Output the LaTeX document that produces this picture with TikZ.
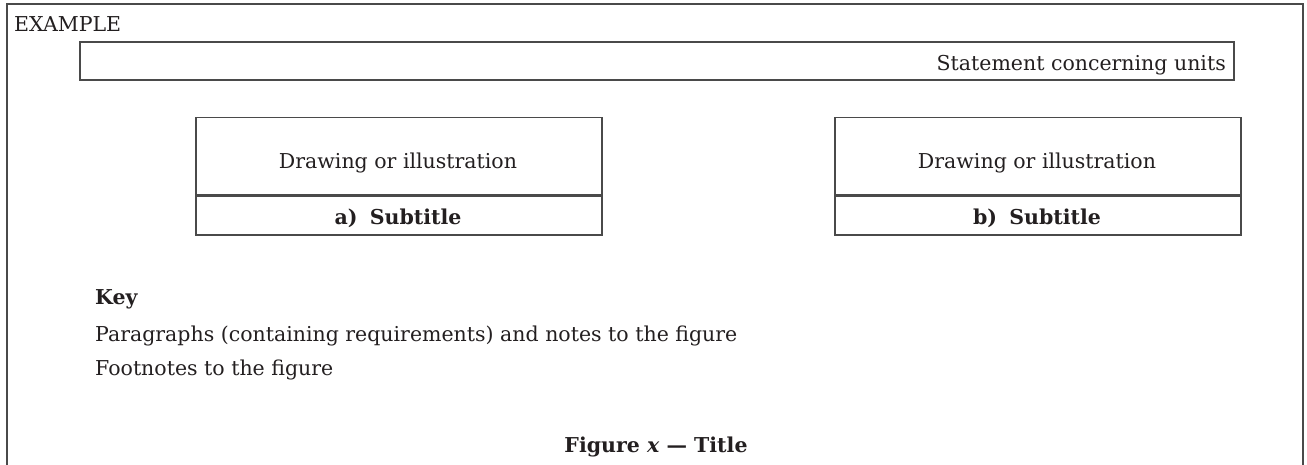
\documentclass[tikz,border=0pt]{standalone}
\usepackage{fontspec}
\setmainfont{DejaVu Serif}
\definecolor{ink}{HTML}{231F20}
\definecolor{rule}{HTML}{4A4A4A}
\begin{document}
\begin{tikzpicture}[x=1pt,y=1pt,
  frame/.style={draw=rule,line width=1.5pt},
  panel/.style={draw=rule,line width=1.5pt,rectangle,inner sep=0pt,anchor=south west},
  txt/.style={text=ink,inner sep=0pt,font=\fontsize{20.5}{24}\selectfont},
  btxt/.style={txt,font=\fontsize{20.5}{24}\selectfont\bfseries}]
\useasboundingbox (0,0) rectangle (1307,465);
\fill[white] (0,0) rectangle (1307,465);

% outer frame, open at the bottom
\coordinate (fl) at (7,0);
\coordinate (fr) at (1303,0);
\draw[frame] (fl) |- (1303,461) -- (fr);
\node[txt,anchor=base west] (ex) at (14,433) {EXAMPLE};

% units statement
\node[panel,minimum width=1154pt,minimum height=38pt] (units) at (79,384) {};
\node[txt,anchor=base east] (unitstxt) at (1226,394) {Statement concerning units};

% panel a
\node[panel,minimum width=406pt,minimum height=39pt] (suba) at (195,229) {};
\node[panel,minimum width=406pt,minimum height=77pt,anchor=south west] (drawa) at (suba.north west) {};
\node[txt,anchor=base] (drawatxt) at (398,296) {Drawing or illustration};
\node[btxt,anchor=base] (subatxt) at (398,240) {a)\hspace{0.6em}Subtitle};

% panel b
\node[panel,minimum width=406pt,minimum height=39pt] (subb) at (834,229) {};
\node[panel,minimum width=406pt,minimum height=77pt,anchor=south west] (drawb) at (subb.north west) {};
\node[txt,anchor=base] (drawbtxt) at (1037,296) {Drawing or illustration};
\node[btxt,anchor=base] (subbtxt) at (1037,240) {b)\hspace{0.6em}Subtitle};

% key
\node[btxt,anchor=base west] (key) at (95,160) {Key};
\node[txt,anchor=base west] (para) at (95,123) {Paragraphs (containing requirements) and notes to the figure};
\node[txt,anchor=base west] (foot) at (95,89) {Footnotes to the figure};

% title
\node[btxt,anchor=base] (title) at (656,12) {Figure \textit{x} — Title};
\end{tikzpicture}
\end{document}
